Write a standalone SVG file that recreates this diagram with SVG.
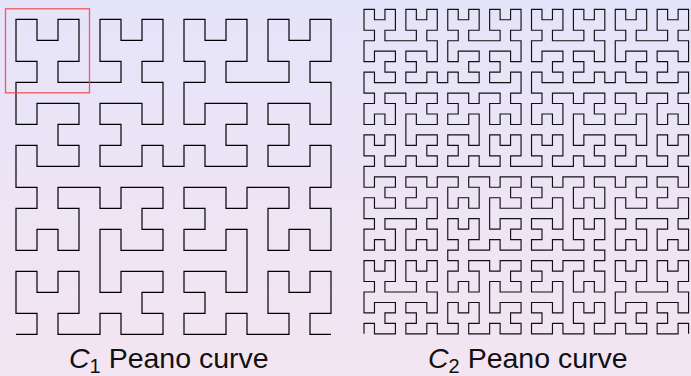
<svg xmlns="http://www.w3.org/2000/svg" width="691" height="376" viewBox="0 0 691 376">
<style>
.cv{fill:none;stroke:#000;stroke-linecap:butt;stroke-linejoin:miter}
.c1{stroke-width:0.057}
.c2{stroke-width:0.11;stroke:#111}
.lbl{font-family:"Liberation Sans",Arial,Helvetica,sans-serif;font-size:28.5px;fill:#111}
.sub{font-size:20px}
</style>
<defs>
<linearGradient id="bgGrad" x1="0" y1="0" x2="0" y2="1">
<stop offset="0" stop-color="#e6e4fa"/>
<stop offset="1" stop-color="#f3e5f1"/>
</linearGradient>
</defs>
<rect id="background" x="0" y="0" width="691" height="376" fill="url(#bgGrad)"/>
<g id="curve-c1" transform="translate(16,19.3) scale(21)">
<path class="cv c1" d="M0,15
h1v-1h-1v-2h1v1h1v-1h1v2h-1v1h1 h1 v-1h1v1h2v-1h-1v-1h1v-1h-2v1h-1v-1 v-1 v-1h1v1h2v-1h-1v-1h1v-1h-2v1h-1v-1 h-1 h-1v1h1v2h-1v-1h-1v1h-1v-2h1v-1h-1
v-1
v-1h1v1h2v-1h-1v-1h1v-1h-2v1h-1v-1 v-1 h1v-1h-1v-2h1v1h1v-1h1v2h-1v1h1 h1 h1v-1h-1v-2h1v1h1v-1h1v2h-1v1h1 v1 v1h-1v-1h-2v1h1v1h-1v1h2v-1h1v1
h1
v-1h1v1h2v-1h-1v-1h1v-1h-2v1h-1v-1 v-1 h1v-1h-1v-2h1v1h1v-1h1v2h-1v1h1 h1 h1v-1h-1v-2h1v1h1v-1h1v2h-1v1h1 v1 v1h-1v-1h-2v1h1v1h-1v1h2v-1h1v1
v1
h-1v1h1v2h-1v-1h-1v1h-1v-2h1v-1h-1 h-1 v1h-1v-1h-2v1h1v1h-1v1h2v-1h1v1 v1 v1h-1v-1h-2v1h1v1h-1v1h2v-1h1v1 h1 h1v-1h-1v-2h1v1h1v-1h1v2h-1v1h1"/>
</g>
<g id="curve-c2" transform="translate(364,9.3) scale(10.47)">
<path class="cv c2" d="M0,31
v-1h1v1h2v-1h-1v-1h1v-1h-2v1h-1v-1 v-1 h1v-1h-1v-2h1v1h1v-1h1v2h-1v1h1 h1 h1v-1h-1v-2h1v1h1v-1h1v2h-1v1h1 v1 v1h-1v-1h-2v1h1v1h-1v1h2v-1h1v1
h1
h1v-1h-1v-2h1v1h1v-1h1v2h-1v1h1 h1 v-1h1v1h2v-1h-1v-1h1v-1h-2v1h-1v-1 v-1 v-1h1v1h2v-1h-1v-1h1v-1h-2v1h-1v-1 h-1 h-1v1h1v2h-1v-1h-1v1h-1v-2h1v-1h-1
v-1
h1v-1h-1v-2h1v1h1v-1h1v2h-1v1h1 h1 v-1h1v1h2v-1h-1v-1h1v-1h-2v1h-1v-1 v-1 v-1h1v1h2v-1h-1v-1h1v-1h-2v1h-1v-1 h-1 h-1v1h1v2h-1v-1h-1v1h-1v-2h1v-1h-1
h-1
v1h-1v-1h-2v1h1v1h-1v1h2v-1h1v1 v1 h-1v1h1v2h-1v-1h-1v1h-1v-2h1v-1h-1 h-1 h-1v1h1v2h-1v-1h-1v1h-1v-2h1v-1h-1 v-1 v-1h1v1h2v-1h-1v-1h1v-1h-2v1h-1v-1
v-1
h1v-1h-1v-2h1v1h1v-1h1v2h-1v1h1 h1 v-1h1v1h2v-1h-1v-1h1v-1h-2v1h-1v-1 v-1 v-1h1v1h2v-1h-1v-1h1v-1h-2v1h-1v-1 h-1 h-1v1h1v2h-1v-1h-1v1h-1v-2h1v-1h-1
v-1
v-1h1v1h2v-1h-1v-1h1v-1h-2v1h-1v-1 v-1 h1v-1h-1v-2h1v1h1v-1h1v2h-1v1h1 h1 h1v-1h-1v-2h1v1h1v-1h1v2h-1v1h1 v1 v1h-1v-1h-2v1h1v1h-1v1h2v-1h1v1
h1
v-1h1v1h2v-1h-1v-1h1v-1h-2v1h-1v-1 v-1 h1v-1h-1v-2h1v1h1v-1h1v2h-1v1h1 h1 h1v-1h-1v-2h1v1h1v-1h1v2h-1v1h1 v1 v1h-1v-1h-2v1h1v1h-1v1h2v-1h1v1
v1
h-1v1h1v2h-1v-1h-1v1h-1v-2h1v-1h-1 h-1 v1h-1v-1h-2v1h1v1h-1v1h2v-1h1v1 v1 v1h-1v-1h-2v1h1v1h-1v1h2v-1h1v1 h1 h1v-1h-1v-2h1v1h1v-1h1v2h-1v1h1
h1
h1v-1h-1v-2h1v1h1v-1h1v2h-1v1h1 h1 v-1h1v1h2v-1h-1v-1h1v-1h-2v1h-1v-1 v-1 v-1h1v1h2v-1h-1v-1h1v-1h-2v1h-1v-1 h-1 h-1v1h1v2h-1v-1h-1v1h-1v-2h1v-1h-1
v-1
v-1h1v1h2v-1h-1v-1h1v-1h-2v1h-1v-1 v-1 h1v-1h-1v-2h1v1h1v-1h1v2h-1v1h1 h1 h1v-1h-1v-2h1v1h1v-1h1v2h-1v1h1 v1 v1h-1v-1h-2v1h1v1h-1v1h2v-1h1v1
h1
v-1h1v1h2v-1h-1v-1h1v-1h-2v1h-1v-1 v-1 h1v-1h-1v-2h1v1h1v-1h1v2h-1v1h1 h1 h1v-1h-1v-2h1v1h1v-1h1v2h-1v1h1 v1 v1h-1v-1h-2v1h1v1h-1v1h2v-1h1v1
v1
h-1v1h1v2h-1v-1h-1v1h-1v-2h1v-1h-1 h-1 v1h-1v-1h-2v1h1v1h-1v1h2v-1h1v1 v1 v1h-1v-1h-2v1h1v1h-1v1h2v-1h1v1 h1 h1v-1h-1v-2h1v1h1v-1h1v2h-1v1h1
v1
v1h-1v-1h-2v1h1v1h-1v1h2v-1h1v1 v1 h-1v1h1v2h-1v-1h-1v1h-1v-2h1v-1h-1 h-1 h-1v1h1v2h-1v-1h-1v1h-1v-2h1v-1h-1 v-1 v-1h1v1h2v-1h-1v-1h1v-1h-2v1h-1v-1
h-1
h-1v1h1v2h-1v-1h-1v1h-1v-2h1v-1h-1 h-1 v1h-1v-1h-2v1h1v1h-1v1h2v-1h1v1 v1 v1h-1v-1h-2v1h1v1h-1v1h2v-1h1v1 h1 h1v-1h-1v-2h1v1h1v-1h1v2h-1v1h1
v1
h-1v1h1v2h-1v-1h-1v1h-1v-2h1v-1h-1 h-1 v1h-1v-1h-2v1h1v1h-1v1h2v-1h1v1 v1 v1h-1v-1h-2v1h1v1h-1v1h2v-1h1v1 h1 h1v-1h-1v-2h1v1h1v-1h1v2h-1v1h1
h1
v-1h1v1h2v-1h-1v-1h1v-1h-2v1h-1v-1 v-1 h1v-1h-1v-2h1v1h1v-1h1v2h-1v1h1 h1 h1v-1h-1v-2h1v1h1v-1h1v2h-1v1h1 v1 v1h-1v-1h-2v1h1v1h-1v1h2v-1h1v1"/>
</g>
<rect id="highlight" x="5.5" y="8.8" width="84" height="84" fill="none" stroke="#f04a4a" stroke-width="1.3" stroke-opacity="0.9"/>
<g id="label-c1">
<text class="lbl" x="69" y="368"><tspan font-style="italic">C</tspan><tspan class="sub" dy="5">1</tspan><tspan dy="-5"> Peano curve</tspan></text>
</g>
<g id="label-c2">
<text class="lbl" x="428" y="368"><tspan font-style="italic">C</tspan><tspan class="sub" dy="5">2</tspan><tspan dy="-5"> Peano curve</tspan></text>
</g>
</svg>
